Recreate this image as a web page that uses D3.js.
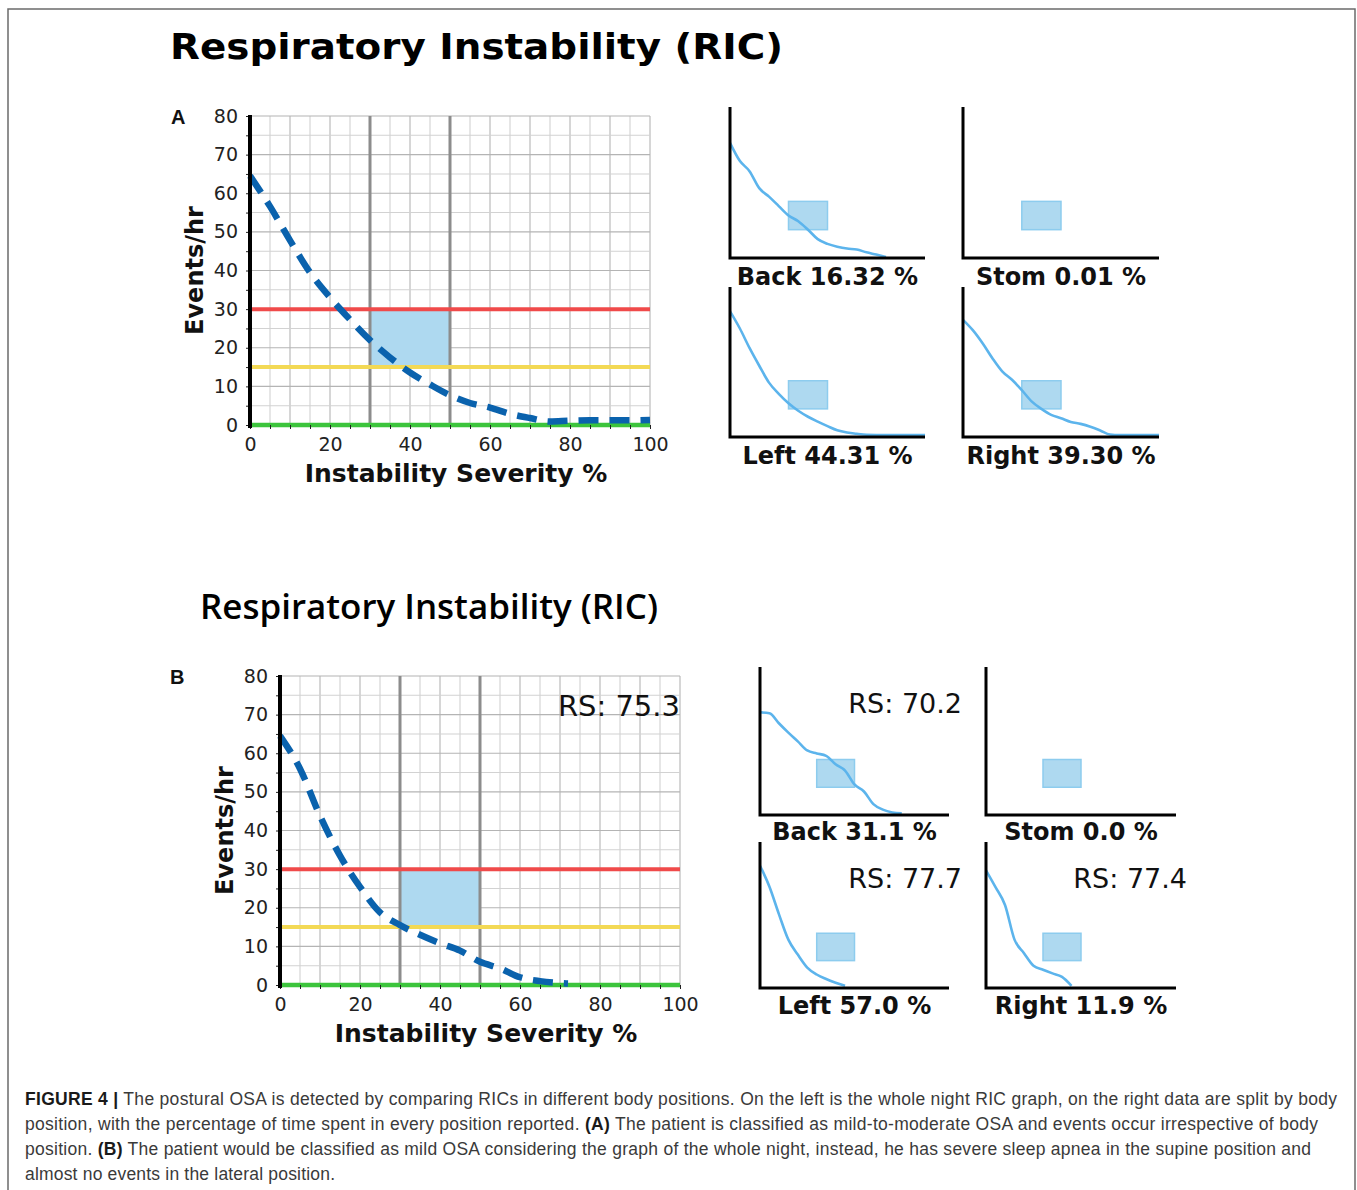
<!DOCTYPE html>
<html><head><meta charset="utf-8">
<script src="https://cdn.jsdelivr.net/npm/d3@7"></script>
<style>
html,body{margin:0;padding:0;background:#fff;}
svg{display:block;}
</style></head>
<body>
<svg id="fig" width="1357" height="1190"></svg>
<script>
// ---------------- DATA ----------------
const titleText = "Respiratory Instability (RIC)";
const xLabel = "Instability Severity %";
const yLabel = "Events/hr";
const xTickLabels = [0, 20, 40, 60, 80, 100];
const yTickLabels = [0, 10, 20, 30, 40, 50, 60, 70, 80];
const severeLevel = 30;      // red
const moderateLevel = 15;    // yellow
const normalLevel = 0;       // green
const boxSeverity = [30, 50];
const boxEvents = [15, 30];

// Panel A whole night
const mainA_x = [0,5,10,15,20,25,30,35,40,45,50,55,60,65,70,75,80,85,90,95,100];
const mainA_y = [64.5,56.6,47.8,39.5,33,27.3,22,17.5,13.6,10.5,7.7,5.7,4.5,2.9,1.8,0.9,1.1,1.2,1.2,1.2,1.3];
// Panel B whole night
const mainB_x = [0,5,10,15,20,25,30,35,40,45,50,55,60,65,70,72];
const mainB_y = [64.5,56,43.8,33.5,25.4,18.8,15.5,13,10.8,8.9,6,4.3,2,1,0.5,0.4];
const mainB_rs = "75.3";

// Positions
const positions = ["Back", "Stom", "Left", "Right"];
const pctA = ["16.32", "0.01", "44.31", "39.30"];
const pctB = ["31.1", "0.0", "57.0", "11.9"];
const rsB = ["70.2", null, "77.7", "77.4"];

const backA_x = [0,5,10,15,20,25,30,35,40,45,50,55,60,65,70,75,80];
const backA_y = [61,51.5,46,37,32.5,27.5,22.5,19.5,15,10,7.5,6,5,4.5,3,1.8,0.5];
const stomA_x = [];
const stomA_y = [];
const leftA_x = [0,5,10,15,20,25,30,35,40,45,50,55,60,65,70,80,90,100];
const leftA_y = [67,58,47.5,38,29,23,18,14,10.8,8.2,5.8,3.6,2.4,1.7,1.2,1,1,1];
const rightA_x = [0,5,10,15,20,25,30,35,40,45,50,55,60,65,70,75,80,90,100];
const rightA_y = [62.5,57,50,42,35,30.5,25,19,15,11.8,10,8,7,5.5,3.5,1.3,1,1,1];

const backB_x = [0,5,10,15,20,25,30,35,40,45,50,55,60,65,70,75];
const backB_y = [55.5,55,49.6,44.5,39.8,34.9,33.3,32,27.4,24,16.5,12.7,5.9,2.9,1.4,0.9];
const stomB_x = [];
const stomB_y = [];
const leftB_x = [0,5,10,15,20,25,30,35,40,45];
const leftB_y = [67,55.5,40.5,26.5,18.3,11.2,7.4,4.9,2.9,1.2];
const rightB_x = [0,5,10,15,20,25,30,35,40,45];
const rightB_y = [64.5,55.3,45.5,26.5,19.1,12.2,10,8,6.1,1.2];

const captionLines = [
  [["b","FIGURE 4 |"],["n"," The postural OSA is detected by comparing RICs in different body positions. On the left is the whole night RIC graph, on the right data are split by body"]],
  [["n","position, with the percentage of time spent in every position reported. "],["b","(A)"],["n"," The patient is classified as mild-to-moderate OSA and events occur irrespective of body"]],
  [["n","position. "],["b","(B)"],["n"," The patient would be classified as mild OSA considering the graph of the whole night, instead, he has severe sleep apnea in the supine position and"]],
  [["n","almost no events in the lateral position."]]
];

// ---------------- DRAW ----------------
const svg = d3.select("#fig");
const FONT = "'DejaVu Sans', sans-serif";

svg.append("rect").attr("x",0).attr("y",0).attr("width",1357).attr("height",1190).attr("fill","#fff");
// frame
svg.append("path").attr("d","M8,1200 L8,9 L1355,9 L1355,1200")
  .attr("fill","none").attr("stroke","#6b6b6b").attr("stroke-width",1.5);

function zip(xs, ys){ return xs.map((v,i)=>({x:v,y:ys[i]})); }

function drawMain(L, xs, ys, rs){
  const x = d3.scaleLinear().domain([0,100]).range([L.x0, L.x1]);
  const y = d3.scaleLinear().domain([0,80]).range([L.y0, L.yTop]);
  const g = svg.append("g");
  const xg = x.ticks(20), yg = y.ticks(16);
  // grid
  g.selectAll(".vg").data(xg).join("line")
    .attr("x1",d=>x(d)).attr("x2",d=>x(d)).attr("y1",y(80)).attr("y2",y(0))
    .attr("stroke",d=>d%10===0?"#b4b4b4":"#d2d2d2").attr("stroke-width",1.1);
  g.selectAll(".hg").data(yg).join("line")
    .attr("x1",x(0)).attr("x2",x(100)).attr("y1",d=>y(d)).attr("y2",d=>y(d))
    .attr("stroke",d=>d%10===0?"#b4b4b4":"#d2d2d2").attr("stroke-width",1.1);
  // box
  g.append("rect").attr("x",x(boxSeverity[0])).attr("y",y(boxEvents[1]))
    .attr("width",x(boxSeverity[1])-x(boxSeverity[0])).attr("height",y(boxEvents[0])-y(boxEvents[1]))
    .attr("fill","#aed9f0");
  // gray verticals
  g.selectAll(".gv").data(boxSeverity).join("line")
    .attr("x1",d=>x(d)).attr("x2",d=>x(d)).attr("y1",y(80)).attr("y2",y(0))
    .attr("stroke","#8c8c8c").attr("stroke-width",3);
  // thresholds
  const thr = [[severeLevel,"#f04a4a",4],[moderateLevel,"#f3d955",4],[normalLevel,"#3cc43c",4.5]];
  g.selectAll(".thr").data(thr).join("line")
    .attr("x1",x(0)).attr("x2",x(100)).attr("y1",d=>y(d[0])).attr("y2",d=>y(d[0]))
    .attr("stroke",d=>d[1]).attr("stroke-width",d=>d[2]);
  // curve
  const line = d3.line().x(d=>x(d.x)).y(d=>y(d.y)).curve(d3.curveMonotoneX);
  g.append("path").datum(zip(xs,ys)).attr("d",line)
    .attr("fill","none").attr("stroke","#0a62ad").attr("stroke-width",6.5)
    .attr("stroke-dasharray","20,11");
  // axes ticks
  const ax = d3.axisBottom(x).tickValues(xg).tickSize(4).tickPadding(9)
    .tickFormat(d=>xTickLabels.includes(d)?d:"");
  const axg = g.append("g").attr("transform",`translate(0,${y(0)})`).call(ax);
  axg.select(".domain").remove();
  axg.selectAll("line").attr("stroke","#222");
  axg.selectAll("text").attr("font-family",FONT).attr("font-size",19).attr("fill","#222");
  const ay = d3.axisLeft(y).tickValues(yg).tickSize(4).tickPadding(8)
    .tickFormat(d=>yTickLabels.includes(d)?d:"");
  const ayg = g.append("g").attr("transform",`translate(${x(0)},0)`).call(ay);
  ayg.select(".domain").remove();
  ayg.selectAll("line").attr("stroke","#222");
  ayg.selectAll("text").attr("font-family",FONT).attr("font-size",19).attr("fill","#222");
  // black y axis line
  g.append("line").attr("x1",x(0)).attr("x2",x(0)).attr("y1",y(80)-1).attr("y2",y(0)+3)
    .attr("stroke","#000").attr("stroke-width",4);
  // labels
  g.append("text").attr("x",(x(0)+x(100))/2+6).attr("y",L.xlabY).attr("text-anchor","middle")
    .attr("font-family",FONT).attr("font-weight","bold").attr("font-size",25).attr("fill","#111").text(xLabel);
  g.append("text").attr("transform",`translate(${L.ylabX},${(y(0)+y(80))/2}) rotate(-90)`)
    .attr("text-anchor","middle").attr("font-family",FONT).attr("font-weight","bold")
    .attr("font-size",24).attr("fill","#111").text(yLabel);
  if(rs){
    g.append("text").attr("x",x(100)).attr("y",L.rsY).attr("text-anchor","end")
      .attr("font-family",FONT).attr("font-size",29).attr("fill","#111").text("RS: "+rs);
  }
  g.append("text").attr("x",L.panelX).attr("y",L.panelY).attr("font-family","'Liberation Sans', Arial, sans-serif")
    .attr("font-weight","bold").attr("font-size",20).attr("fill","#111").text(L.panel);
}

function drawMini(L, xs, ys, label, rs){
  const x = d3.scaleLinear().domain([0,100]).range([L.x0, L.x1]);
  const y = d3.scaleLinear().domain([0,80]).range([L.y0, L.yTop]);
  const g = svg.append("g");
  g.append("rect").attr("x",x(boxSeverity[0])).attr("y",y(boxEvents[1]))
    .attr("width",x(boxSeverity[1])-x(boxSeverity[0])).attr("height",y(boxEvents[0])-y(boxEvents[1]))
    .attr("fill","#aed9f0").attr("stroke","#8dccee").attr("stroke-width",1.5);
  if(xs.length){
    const line = d3.line().x(d=>x(d.x)).y(d=>y(d.y)).curve(d3.curveMonotoneX);
    g.append("path").datum(zip(xs,ys)).attr("d",line)
      .attr("fill","none").attr("stroke","#5cb4ec").attr("stroke-width",2.6);
  }
  g.append("path").attr("d",`M${x(0)},${y(80)} L${x(0)},${y(0)} L${x(100)},${y(0)}`)
    .attr("fill","none").attr("stroke","#000").attr("stroke-width",3);
  g.append("text").attr("x",(x(0)+x(100))/2).attr("y",L.labY).attr("text-anchor","middle")
    .attr("font-family",FONT).attr("font-weight","bold").attr("font-size",24).attr("fill","#111").text(label);
  if(rs){
    g.append("text").attr("x",L.rsX).attr("y",L.rsY).attr("text-anchor","end")
      .attr("font-family",FONT).attr("font-size",27).attr("fill","#111").text("RS: "+rs);
  }
}

// Titles
svg.append("text").attr("x",170).attr("y",59).attr("font-family",FONT).attr("font-weight","bold")
  .attr("font-size",36).attr("textLength",613).attr("lengthAdjust","spacingAndGlyphs").attr("fill","#000").text(titleText);
svg.append("text").attr("x",200).attr("y",619).attr("font-family","'Open Sans', 'Noto Sans', sans-serif").attr("font-weight",600)
  .attr("font-size",35).attr("textLength",458).attr("lengthAdjust","spacingAndGlyphs").attr("fill","#000").text(titleText);

// Panel A
drawMain({x0:250,x1:650,y0:425,yTop:116,xlabY:482,ylabX:203,panel:"A",panelX:171,panelY:124}, mainA_x, mainA_y, null);
// Panel B
drawMain({x0:280,x1:680,y0:985,yTop:676,xlabY:1042,ylabX:233,panel:"B",panelX:170,panelY:684,rsY:716}, mainB_x, mainB_y, mainB_rs);

const miniA = [
  {x0:730,x1:925,y0:258,yTop:107,labY:285},
  {x0:963,x1:1159,y0:258,yTop:107,labY:285},
  {x0:730,x1:925,y0:437,yTop:287,labY:464},
  {x0:963,x1:1159,y0:437,yTop:287,labY:464}
];
const miniAData = [[backA_x,backA_y],[stomA_x,stomA_y],[leftA_x,leftA_y],[rightA_x,rightA_y]];
miniA.forEach((L,i)=>drawMini(L, miniAData[i][0], miniAData[i][1], positions[i]+" "+pctA[i]+" %", null));

const miniB = [
  {x0:760,x1:949,y0:815,yTop:667,labY:840,rsX:962,rsY:713},
  {x0:986,x1:1176,y0:815,yTop:667,labY:840},
  {x0:760,x1:949,y0:988,yTop:842,labY:1014,rsX:962,rsY:888},
  {x0:986,x1:1176,y0:988,yTop:842,labY:1014,rsX:1187,rsY:888}
];
const miniBData = [[backB_x,backB_y],[stomB_x,stomB_y],[leftB_x,leftB_y],[rightB_x,rightB_y]];
miniB.forEach((L,i)=>drawMini(L, miniBData[i][0], miniBData[i][1], positions[i]+" "+pctB[i]+" %", rsB[i]));

// Caption
const capY = [1105, 1130, 1155, 1180];
const capW = [1312, 1293, 1286, 310];
captionLines.forEach((parts,i)=>{
  const t = svg.append("text").attr("x",25).attr("y",capY[i])
    .attr("font-family","'Liberation Sans', Arial, sans-serif").attr("font-size",17.5).attr("fill","#3a3a3a")
    .attr("textLength",capW[i]).attr("lengthAdjust","spacing");
  parts.forEach(p=>{
    t.append("tspan").attr("font-weight",p[0]==="b"?"bold":"normal").attr("fill",p[0]==="b"?"#1a1a1a":"#3a3a3a").text(p[1]);
  });
});
</script>
</body></html>
